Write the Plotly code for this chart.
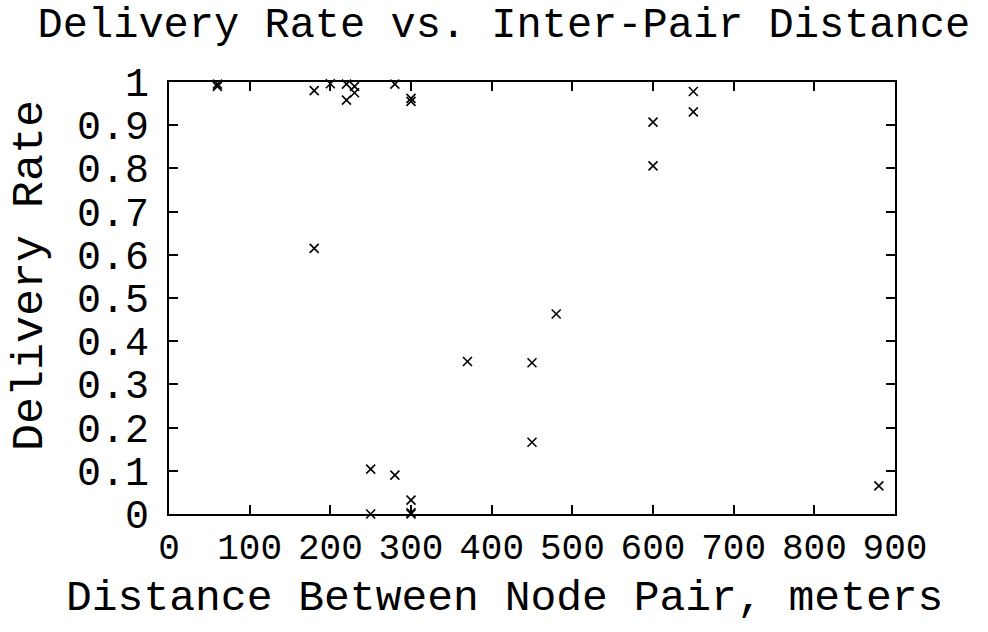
import plotly.graph_objects as go

# Measured delivery rate for each node pair, by distance between the pair (meters)
distance_m = [60, 60, 180, 180, 200, 220, 220, 230, 230, 250, 250, 280, 280,
              300, 300, 300, 300, 300, 370, 450, 450, 480, 600, 600, 650, 650, 880]
delivery_rate = [0.99, 0.995, 0.98, 0.615, 0.996, 0.995, 0.958, 0.99, 0.975,
                 0.104, 0.0, 0.995, 0.09, 0.955, 0.962, 0.032, 0.0, 0.003,
                 0.353, 0.35, 0.166, 0.463, 0.907, 0.806, 0.978, 0.931, 0.065]

x_ticks = [0, 100, 200, 300, 400, 500, 600, 700, 800, 900]
y_ticks = [0, 0.1, 0.2, 0.3, 0.4, 0.5, 0.6, 0.7, 0.8, 0.9, 1]
y_tick_text = ["0", "0.1", "0.2", "0.3", "0.4", "0.5", "0.6", "0.7", "0.8", "0.9", "1"]

TITLE = "Delivery Rate vs. Inter-Pair Distance"
X_LABEL = "Distance Between Node Pair, meters"
Y_LABEL = "Delivery Rate"

FONT = "Liberation Mono, Courier New, monospace"

fig = go.Figure(
    go.Scatter(
        x=distance_m,
        y=delivery_rate,
        mode="markers",
        marker=dict(symbol="x-thin", size=9, color="black",
                    line=dict(color="black", width=1.6)),
        cliponaxis=False,
        showlegend=False,
    )
)

axis_common = dict(
    showgrid=False,
    zeroline=False,
    showline=True,
    linecolor="black",
    linewidth=2,
    mirror="allticks",
    ticks="inside",
    ticklen=9,
    tickwidth=2,
    tickcolor="black",
)

fig.update_layout(
    width=988,
    height=632,
    margin=dict(l=169, r=93, t=82, b=118),
    paper_bgcolor="white",
    plot_bgcolor="white",
    title=dict(
        text=TITLE,
        font=dict(family=FONT, size=42, color="black"),
        x=0.51, xanchor="center", y=0.965, yanchor="middle",
    ),
    xaxis=dict(axis_common, range=[0, 900], tickvals=x_ticks, ticklabelstandoff=0,
               tickfont=dict(family=FONT, size=36, color="black")),
    yaxis=dict(axis_common, range=[0, 1], tickvals=y_ticks, ticktext=y_tick_text,
               ticklabelstandoff=10,
               tickfont=dict(family=FONT, size=40, color="black")),
)

# Axis titles placed as annotations relative to the plot area
fig.add_annotation(
    text=X_LABEL, xref="paper", yref="paper",
    x=(504 - 169) / (895 - 169), y=-(598 - 514) / (514 - 82),
    xanchor="center", yanchor="middle", showarrow=False,
    font=dict(family=FONT, size=43, color="black"),
)
fig.add_annotation(
    text=Y_LABEL, xref="paper", yref="paper",
    x=-(169 - 30) / (895 - 169), y=(514 - 276) / (514 - 82),
    xanchor="center", yanchor="middle", showarrow=False, textangle=-90,
    font=dict(family=FONT, size=45, color="black"),
)

fig.write_html("out.html")
